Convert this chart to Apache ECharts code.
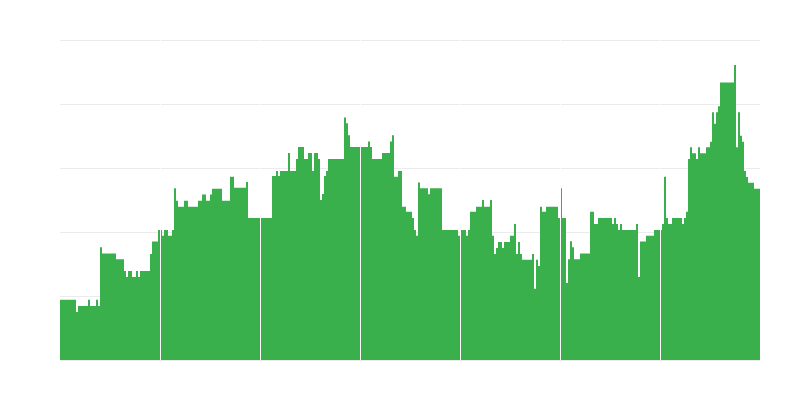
<!DOCTYPE html>
<html>
<head>
<meta charset="utf-8">
<script src="https://cdn.jsdelivr.net/npm/echarts@6/dist/echarts.min.js"></script>
<style>
html,body{margin:0;padding:0;background:#fff;}
#chart{width:800px;height:400px;}
</style>
</head>
<body>
<div id="chart"></div>
<script>
// Values, one array per group (50 bars each)
var group1 = [18.8,18.8,18.8,18.8,18.8,18.8,18.8,18.8,15.0,16.9,
              16.9,16.9,16.9,16.9,18.8,16.9,16.9,16.9,18.8,16.9,
              35.2,33.3,33.3,33.3,33.3,33.3,33.3,33.3,31.5,31.5,
              31.5,31.5,27.8,25.9,27.8,27.8,25.9,25.9,27.8,25.9,
              27.8,27.8,27.8,27.8,27.8,33.1,37.0,37.0,37.0,40.6];
var group2 = [40.6,38.8,40.6,40.6,38.8,38.8,40.6,53.7,49.8,47.9,
              47.9,47.9,49.8,49.8,47.9,47.9,47.9,47.9,47.9,49.8,
              49.8,51.7,51.7,49.8,49.8,51.7,53.5,53.5,53.5,53.5,
              53.5,49.8,49.8,49.8,49.8,57.3,57.3,53.8,53.8,53.8,
              53.8,53.8,53.8,55.6,44.4,44.4,44.4,44.4,44.4,44.4];
var group3 = [44.4,44.4,44.4,44.4,44.4,44.4,57.5,57.5,59.1,57.5,
              59.1,59.1,59.1,59.1,64.7,59.1,59.1,59.1,62.8,66.6,
              66.6,66.6,62.8,62.8,64.7,64.7,59.1,64.7,64.7,62.8,
              50.0,51.9,57.5,59.1,62.8,62.8,62.8,62.8,62.8,62.8,
              62.8,62.8,75.8,74.0,70.2,66.6,66.6,66.6,66.6,66.6];
var group4 = [66.6,66.6,66.6,66.6,68.3,66.6,62.8,62.8,62.8,62.8,
              62.8,64.7,64.7,64.7,64.7,68.3,70.2,57.3,57.3,59.1,
              59.1,47.9,47.9,46.3,46.3,46.3,44.4,40.6,38.8,55.5,
              53.7,53.7,53.7,53.7,51.8,53.7,53.7,53.7,53.7,53.7,
              53.7,40.6,40.6,40.6,40.6,40.6,40.6,40.6,40.6,38.8];
var group5 = [40.6,40.6,40.6,38.8,40.6,46.3,46.3,46.3,47.9,47.9,
              47.9,50.0,47.9,47.9,47.9,50.0,38.8,33.1,35.0,36.9,
              36.9,35.0,36.9,36.9,36.9,38.8,38.8,42.5,33.1,36.9,
              33.1,31.3,31.3,31.3,31.3,31.3,33.1,22.3,31.3,29.4,
              47.9,46.3,46.3,47.9,47.9,47.9,47.9,47.9,47.9,44.4];
var group6 = [53.7,44.4,44.4,24.1,31.5,37.1,35.2,31.5,31.5,31.5,
              33.3,33.3,33.3,33.3,33.3,46.3,46.3,42.5,42.5,44.4,
              44.4,44.4,44.4,44.4,44.4,44.4,42.5,44.4,42.5,40.6,
              42.5,40.6,40.6,40.6,40.6,40.6,40.6,40.6,42.5,25.9,
              37.0,37.0,37.0,38.8,38.8,38.8,38.8,40.6,40.6,40.6];
var group7 = [40.6,42.5,57.3,44.4,42.5,42.5,44.4,44.4,44.4,44.4,
              44.4,42.5,44.4,46.3,62.8,66.5,64.6,64.6,62.8,66.5,
              64.6,64.6,64.6,66.5,66.5,68.2,77.4,73.8,77.4,79.3,
              86.7,86.7,86.7,86.7,86.7,86.7,86.7,92.2,66.5,77.4,
              70.1,68.2,59.1,57.2,55.4,55.4,55.4,53.5,53.5,53.5];
var groups = [group1, group2, group3, group4, group5, group6, group7];
var groupNames = ['G1','G2','G3','G4','G5','G6','G7'];
var yTicks = [0, 20, 40, 60, 80, 100];

var categories = [];
var values = [];
groups.forEach(function (g, gi) {
  g.forEach(function (v, i) {
    categories.push(groupNames[gi] + '-' + (i + 1));
    values.push(v);
  });
});

var chart = echarts.init(document.getElementById('chart'), null, {renderer: 'canvas'});
chart.setOption({
  animation: false,
  backgroundColor: '#ffffff',
  grid: {left: 60, right: 40, top: 40, bottom: 40, containLabel: false},
  xAxis: {
    type: 'category',
    data: categories,
    z: 5,
    axisLine: {show: false},
    axisTick: {show: false},
    axisLabel: {show: false},
    splitLine: {
      show: true,
      interval: group1.length - 1,
      showMinLine: false,
      showMaxLine: false,
      lineStyle: {color: '#ffffff', width: 1}
    }
  },
  yAxis: {
    type: 'value',
    min: yTicks[0],
    max: yTicks[yTicks.length - 1],
    interval: yTicks[1] - yTicks[0],
    axisLine: {show: false},
    axisTick: {show: false},
    axisLabel: {show: false},
    splitLine: {show: true, lineStyle: {color: '#ebebeb', width: 1}}
  },
  series: [{
    type: 'bar',
    data: values,
    barCategoryGap: '0%',
    itemStyle: {color: '#39b04b'}
  }]
});
</script>
</body>
</html>
